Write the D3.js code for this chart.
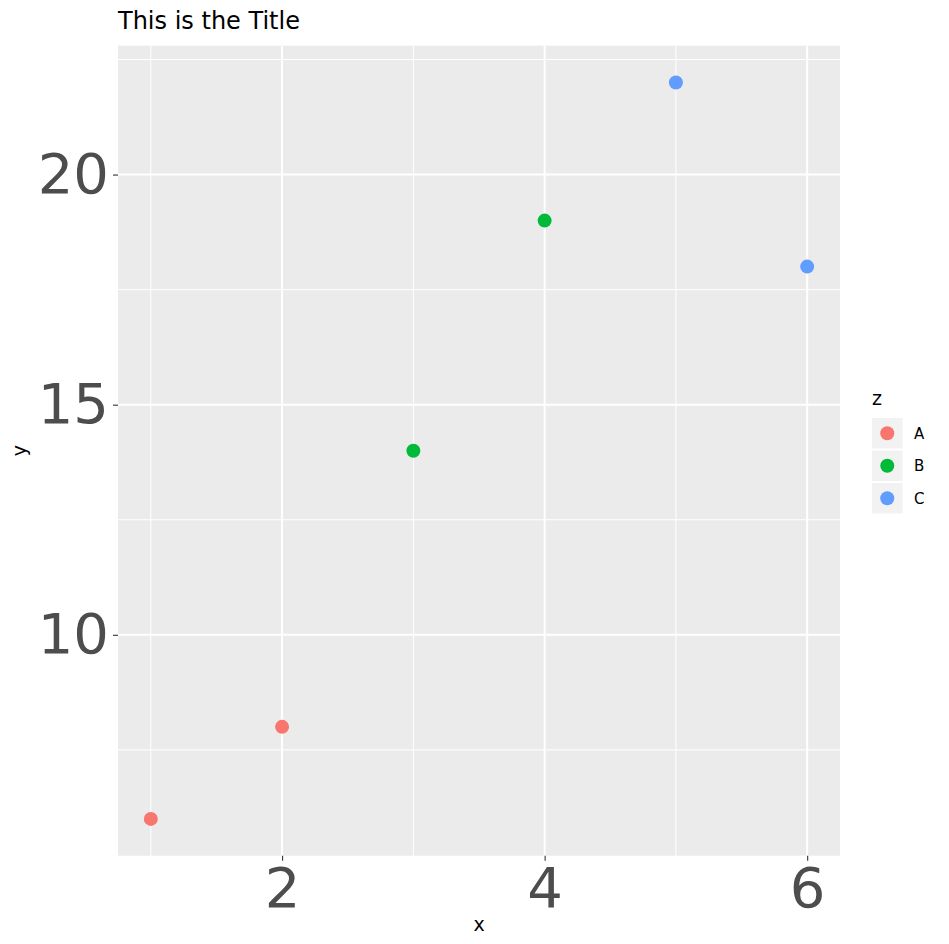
<!DOCTYPE html>
<html>
<head>
<meta charset="utf-8">
<script src="https://cdn.jsdelivr.net/npm/d3@7"></script>
<style>
  body { margin: 0; background: #fff; }
  text { font-family: "DejaVu Sans", sans-serif; }
</style>
</head>
<body>
<div id="viz-container"></div>
<script>
// data
const xs = [1, 2, 3, 4, 5, 6];
const ys = [6, 8, 14, 19, 22, 18];
const zs = ["A", "A", "B", "B", "C", "C"];
const groups = ["A", "B", "C"];
const groupColors = ["#F8766D", "#00BA38", "#619CFF"];
const xTicks = [2, 4, 6];
const xMinor = [1, 3, 5];
const yTicks = [10, 15, 20];
const yMinor = [7.5, 12.5, 17.5, 22.5];

const width = 949, height = 944;
const panel = { left: 118, right: 840, top: 45.7, bottom: 855.7 };

const svg = d3.select("#viz-container").append("svg")
    .attr("width", width).attr("height", height);

const x = d3.scaleLinear().domain([0.75, 6.25]).range([panel.left, panel.right]);
const y = d3.scaleLinear().domain([5.2, 22.8]).range([panel.bottom, panel.top]);
const color = d3.scaleOrdinal().domain(groups).range(groupColors);

// panel background
svg.append("rect")
    .attr("x", panel.left).attr("y", panel.top)
    .attr("width", panel.right - panel.left).attr("height", panel.bottom - panel.top)
    .attr("fill", "#EBEBEB");

// minor grid
svg.selectAll(".ymin").data(yMinor).enter().append("line")
    .attr("x1", panel.left).attr("x2", panel.right)
    .attr("y1", d => y(d)).attr("y2", d => y(d))
    .attr("stroke", "#fff").attr("stroke-width", 1);
svg.selectAll(".xmin").data(xMinor).enter().append("line")
    .attr("y1", panel.top).attr("y2", panel.bottom)
    .attr("x1", d => x(d)).attr("x2", d => x(d))
    .attr("stroke", "#fff").attr("stroke-width", 1);

// major grid
svg.selectAll(".ymaj").data(yTicks).enter().append("line")
    .attr("x1", panel.left).attr("x2", panel.right)
    .attr("y1", d => y(d)).attr("y2", d => y(d))
    .attr("stroke", "#fff").attr("stroke-width", 2);
svg.selectAll(".xmaj").data(xTicks).enter().append("line")
    .attr("y1", panel.top).attr("y2", panel.bottom)
    .attr("x1", d => x(d)).attr("x2", d => x(d))
    .attr("stroke", "#fff").attr("stroke-width", 2);

// axes
const xAxis = svg.append("g")
    .attr("transform", `translate(0,${panel.bottom})`)
    .call(d3.axisBottom(x).tickValues(xTicks).tickFormat(d3.format("d")).tickSize(5).tickPadding(3));
const yAxis = svg.append("g")
    .attr("transform", `translate(${panel.left},0)`)
    .call(d3.axisLeft(y).tickValues(yTicks).tickFormat(d3.format("d")).tickSize(5).tickPadding(4));

[xAxis, yAxis].forEach(g => {
  g.select(".domain").remove();
  g.selectAll(".tick line").attr("stroke", "#333").attr("stroke-width", 1.1);
  g.selectAll(".tick text")
      .attr("fill", "#4D4D4D")
      .style("font-family", "'DejaVu Sans', sans-serif")
      .style("font-size", "56px");
});
xAxis.selectAll(".tick text").attr("dy", "0.78em");

// points
svg.selectAll(".pt").data(xs).enter().append("circle")
    .attr("cx", (d, i) => x(d))
    .attr("cy", (d, i) => y(ys[i]))
    .attr("r", 7)
    .attr("fill", (d, i) => color(zs[i]));

// title and axis titles
svg.append("text").attr("x", 118).attr("y", 29)
    .style("font-size", "24px").attr("fill", "#000").text("This is the Title");
svg.append("text").attr("x", x(3.5)).attr("y", 931)
    .attr("text-anchor", "middle").style("font-size", "19px").text("x");
svg.append("text")
    .attr("transform", `translate(26,${y(14)}) rotate(-90)`)
    .attr("text-anchor", "middle").style("font-size", "19px").text("y");

// legend
const legend = svg.append("g").attr("transform", "translate(872,0)");
legend.append("text").attr("x", 0).attr("y", 405)
    .style("font-size", "19px").text("z");
const keys = legend.selectAll(".key").data(groups).enter().append("g")
    .attr("transform", (d, i) => `translate(0,${418 + i * 32.5})`);
keys.append("rect").attr("width", 30.5).attr("height", 30.5).attr("fill", "#F2F2F2");
keys.append("circle").attr("cx", 15.25).attr("cy", 15.25).attr("r", 7)
    .attr("fill", d => color(d));
keys.append("text").attr("x", 42).attr("y", 15.25).attr("dy", "0.36em")
    .style("font-size", "15px").text(d => d);
</script>
</body>
</html>
